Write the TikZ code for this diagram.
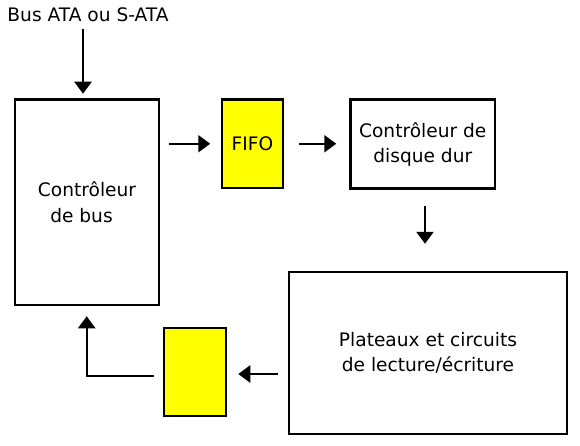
\documentclass[tikz,border=0pt]{standalone}
\usepackage{fontspec}
\setmainfont{DejaVu Sans}
\usetikzlibrary{arrows.meta}
\definecolor{fifoyellow}{RGB}{255,255,0}
\begin{document}
\begin{tikzpicture}[x=1pt,y=-1pt,
  box/.style={draw=black,line width=2.5pt,rectangle,inner sep=0pt,align=center,
    font=\fontsize{18.6}{25.5}\selectfont},
  ybox/.style={box,fill=fifoyellow},
  conn/.style={line width=2.4pt,-{Triangle[width=17pt,length=12pt]}},
  lbl/.style={inner sep=0pt,font=\fontsize{18.6}{25.5}\selectfont}]
\useasboundingbox (0,0) rectangle (580,446);
\fill[white] (0,0) rectangle (580,446);
% nodes
\node[box,minimum width=144pt,minimum height=205.5pt] (busctrl) at (87,202.25)
  {Contrôleur\\de bus\hspace*{11pt}};
\node[ybox,minimum width=61pt,minimum height=88.5pt] (fifo) at (252.5,143.75) {FIFO};
\node[box,minimum width=144.5pt,minimum height=89pt] (disk) at (422.75,144.25)
  {Contrôleur de\\disque dur};
\node[ybox,minimum width=62pt,minimum height=88pt] (buf) at (195,372) {};
\node[box,minimum width=278pt,minimum height=162pt] (plat) at (428,353)
  {Plateaux et circuits\\de lecture/écriture};
\node[lbl,anchor=base] (bus) at (88,22) {Bus ATA ou S-ATA};
\coordinate (busin) at (83,29);
% connectors
\draw[conn,shorten >=4.5pt] (busin) -- (busin |- busctrl.north);
\draw[conn,shorten <=9pt,shorten >=10.5pt] (busctrl.east |- fifo.west) -- (fifo.west);
\draw[conn,shorten <=15pt,shorten >=13pt] (fifo.east) -- (disk.west |- fifo.east);
\draw[conn,shorten <=16pt,shorten >=27pt] (disk.south -| plat.north) ++(-3pt,0) coordinate (dd) (dd) -- (dd |- plat.north);
\draw[conn,shorten <=10pt,shorten >=11pt] (plat.west |- 0,374) -- (buf.east |- 0,374);
\draw[conn,shorten <=9pt,shorten >=10pt] (buf.west |- 0,376) -| (86.7,305 |- busctrl.south);
\end{tikzpicture}
\end{document}
